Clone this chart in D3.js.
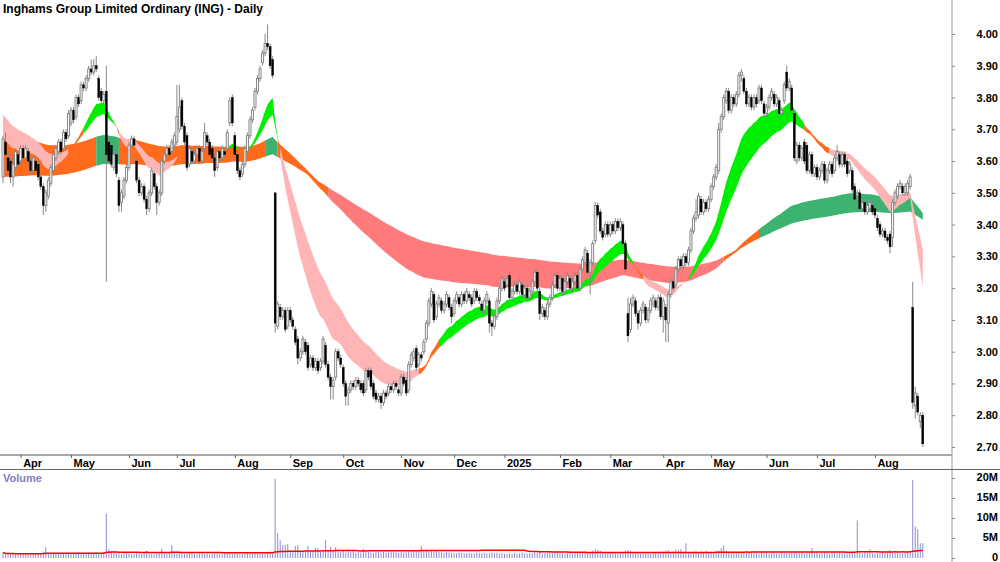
<!DOCTYPE html>
<html>
<head>
<meta charset="utf-8">
<script src="https://cdn.jsdelivr.net/npm/d3@7"></script>
<style>
body { margin: 0; background: #fff; }
svg { display: block; font-family: "Liberation Sans", Arial, sans-serif; }
</style>
</head>
<body>
<svg id="chart" width="1000" height="562"></svg>
<script>
var title = "Inghams Group Limited Ordinary (ING) - Daily";

// one row per trading day: open, high, low, close (cents)
var candles = [
[355,368,353,367],[366,369,360,362],[361,363,356,357],[360,361,353,355],[355,362,352,359],
[358,364,357,363],[362,363,358,359],[360,365,359,364],[364,365,360,361],[361,365,360,364],
[363,364,359,360],[360,361,356,357],[357,362,356,361],[360,361,356,357],[359,360,354,355],
[355,356,351,352],[352,353,343,346],[346,351,344,350],[349,355,348,354],[353,359,352,358],
[357,363,356,362],[361,365,360,364],[363,367,362,366],[366,367,362,363],[364,370,363,369],
[369,370,366,367],[368,376,367,375],[372,377,371,376],[376,377,372,373],[374,381,373,380],
[380,381,377,378],[379,385,378,384],[384,385,382,383],[383,387,382,386],[386,390,385,389],
[389,392,387,388],[388,392,387,390],[390,393,388,389],[386,387,379,380],[382,383,378,379],
[379,382,378,381],[382,390,322,362],[366,367,359,360],[365,366,358,359],[358,363,357,362],
[362,363,355,356],[354,355,344,346],[347,351,344,350],[349,355,348,354],[354,359,353,358],
[358,366,357,365],[365,368,364,367],[367,368,364,365],[360,361,353,354],[354,355,349,350],
[350,353,349,352],[352,353,347,348],[348,349,343,345],[345,351,344,350],[350,358,349,357],
[356,357,351,352],[352,353,343,347],[347,351,346,350],[350,361,349,360],[360,363,359,362],
[362,365,361,364],[364,365,361,362],[363,367,362,366],[365,369,364,368],[366,384,365,374],
[370,384,369,377],[379,380,370,371],[371,372,365,366],[368,369,357,358],[359,365,358,364],
[363,364,359,360],[360,363,359,362],[362,365,361,364],[364,365,359,360],[360,364,359,363],
[364,372,363,369],[368,369,365,366],[366,367,361,362],[364,365,360,361],[361,362,355,357],
[358,364,357,363],[363,364,360,361],[361,365,360,364],[363,364,361,362],[364,370,363,369],
[372,380,371,379],[380,381,371,372],[368,369,361,362],[362,363,356,357],[357,358,354,355],
[356,360,355,359],[359,365,358,364],[363,369,362,368],[368,374,367,373],[373,377,372,376],
[377,383,376,382],[382,387,381,386],[386,390,385,389],[391,395,390,394],[394,400,393,397],
[397,403,395,396],[396,397,389,390],[392,393,386,387],[350,350,306,309],[308,316,307,315],
[314,315,310,311],[311,314,310,313],[313,314,306,307],[308,314,307,313],[313,314,309,310],
[310,311,307,308],[307,308,302,303],[304,305,296,298],[298,301,297,300],[300,305,299,304],
[303,304,299,300],[302,303,294,295],[296,299,295,298],[298,299,294,295],[295,298,294,297],
[297,298,293,294],[295,298,294,297],[297,305,296,304],[302,303,295,296],[296,297,291,292],
[292,293,285,289],[289,292,285,291],[292,301,291,300],[300,301,297,298],[298,299,295,296],
[295,296,289,290],[290,291,283,286],[287,289,283,288],[288,291,287,290],[290,291,288,289],
[289,292,288,291],[291,292,289,290],[290,291,287,288],[290,291,286,287],[288,295,287,294],
[294,295,291,292],[294,295,288,289],[290,291,285,286],[287,288,284,285],[285,287,284,286],
[286,287,282,284],[284,288,283,287],[287,288,285,286],[287,290,286,289],[289,290,287,288],
[288,291,287,290],[290,291,288,289],[288,289,286,287],[287,293,286,292],[292,293,289,290],
[291,292,286,287],[288,297,287,296],[296,300,295,299],[298,301,297,300],[301,302,294,295],
[296,300,295,299],[299,300,297,298],[300,304,299,303],[304,310,303,309],[309,317,308,316],
[315,320,314,319],[318,319,309,310],[311,316,310,315],[315,318,314,317],[316,317,312,313],
[313,316,312,315],[315,319,314,318],[317,318,313,314],[314,315,309,311],[312,317,311,316],
[316,319,315,318],[317,318,314,315],[315,319,314,318],[318,319,315,316],[316,320,315,319],
[318,319,316,317],[317,318,314,315],[316,320,315,319],[319,320,316,317],[317,318,315,316],
[315,316,312,313],[313,317,312,316],[316,319,315,318],[316,317,306,309],[309,310,305,308],
[308,312,307,311],[311,317,310,316],[316,321,315,320],[320,324,319,323],[322,323,319,320],
[321,324,320,323],[324,325,316,317],[317,320,316,319],[319,322,318,321],[321,322,318,319],
[319,323,318,322],[321,322,317,318],[318,321,317,320],[320,321,316,317],[317,320,316,319],
[319,323,318,322],[322,326,321,325],[325,326,319,320],[319,320,310,312],[312,315,311,314],
[313,314,310,311],[311,316,310,315],[315,318,314,317],[317,322,316,321],[321,325,320,324],
[324,325,319,320],[320,324,319,323],[323,324,318,319],[319,323,318,322],[322,325,321,324],
[323,324,319,320],[320,323,319,322],[322,325,321,324],[324,325,319,320],[320,327,319,326],
[326,330,325,329],[328,333,327,332],[331,332,324,325],[325,329,318,328],[328,335,327,334],
[335,347,334,346],[346,347,342,343],[344,345,337,338],[338,339,335,336],[337,341,336,340],
[340,341,336,337],[337,341,336,340],[340,341,337,338],[338,342,337,341],[341,342,338,339],
[339,342,338,341],[340,341,333,334],[334,335,325,326],[312,317,303,305],[307,317,306,315],
[315,318,314,317],[316,317,311,312],[312,313,307,309],[309,314,308,313],[313,316,312,315],
[314,315,309,310],[310,314,309,313],[313,317,312,316],[315,318,314,317],[316,317,313,314],
[314,318,313,317],[317,318,310,311],[311,317,306,316],[314,315,303,310],[309,319,303,318],
[318,323,317,322],[322,323,319,320],[321,327,320,326],[326,330,325,329],[329,330,326,327],
[327,331,326,330],[330,331,327,328],[328,333,327,332],[332,339,331,338],[338,343,337,342],
[342,348,341,344],[343,350,342,349],[348,349,343,344],[344,348,343,347],[347,348,344,345],
[345,349,344,348],[348,353,347,352],[352,356,351,355],[355,359,354,358],[357,372,356,370],
[370,375,369,374],[374,381,373,380],[379,383,378,382],[382,383,375,376],[376,381,375,380],
[380,381,377,378],[378,382,377,381],[381,388,380,387],[387,389,385,388],[386,387,381,382],
[382,383,377,378],[378,381,377,380],[380,381,376,377],[377,381,376,380],[380,381,377,378],
[379,384,378,383],[383,384,378,379],[378,379,374,375],[375,378,374,377],[377,381,376,380],
[380,383,379,382],[381,382,377,378],[378,381,377,380],[379,380,374,375],[375,377,374,376],
[379,385,378,384],[388,390,382,383],[383,386,382,385],[383,384,375,376],[375,376,360,361],
[360,366,359,365],[365,366,360,361],[361,365,360,364],[366,367,359,360],[365,366,356,357],
[357,363,356,362],[362,363,355,356],[356,359,355,358],[358,359,354,355],[355,358,354,357],
[357,360,356,359],[359,360,353,354],[354,358,353,357],[357,360,356,359],[359,360,355,356],
[357,362,356,361],[361,365,360,363],[362,363,358,359],[359,363,358,362],[362,363,358,359],
[360,361,355,356],[357,360,356,359],[357,358,350,351],[352,353,347,348],[349,351,347,350],
[350,351,344,345],[345,348,344,347],[347,348,343,344],[344,347,343,346],[345,348,344,347],
[346,347,343,344],[345,346,342,343],[342,343,338,339],[340,341,336,337],[337,339,336,338],
[338,339,335,336],[336,337,334,335],[337,338,331,333],[336,348,333,347],[347,351,346,350],
[349,353,348,352],[352,354,351,353],[352,353,349,350],[350,353,349,352],[350,354,349,353],
[352,356,351,355],[314,322,282,284],[283,289,279,287],[286,287,280,281],[278,281,276,280],
[280,281,270,271]
];

// daily volume, hundreds of thousands of shares
var volumes = [
14,9,11,10,12,9,8,10,11,13, 10,9,12,11,10,13,16,27,12,11, 10,12,13,11,10,12,14,11,13,12,
15,12,11,13,14,12,11,15,13,12, 14,111,22,16,18,12,11,10,12,13, 11,9,10,12,11,10,13,18,11,10,
9,12,11,23,12,10,14,32,13,11, 15,12,10,11,13,12,10,9,11,12, 10,11,9,10,12,11,10,9,13,12,
11,10,12,11,9,10,11,12,10,13, 12,11,10,14,11,12,16,14,198,62, 44,32,33,35,20,18,30,32,19,17,
18,30,16,17,25,24,15,18,44,19, 27,17,27,16,15,18,14,16,15,17, 13,15,14,23,16,15,14,13,16,15,
14,15,13,14,16,15,14,13,15,14, 15,16,14,17,16,18,30,19,18,17, 18,16,17,15,14,13,15,14,13,12,
12,14,13,11,12,13,12,11,14,13, 12,13,11,12,14,12,13,11,12,10, 11,12,10,13,11,12,14,12,11,13,
12,14,13,15,11,12,13,14,12,15, 13,12,11,10,12,13,11,12,14,13, 15,16,13,14,18,22,20,17,14,13,
12,14,13,12,11,13,15,19,20,18, 14,12,13,11,12,13,12,11,14,13, 12,14,16,18,20,15,17,22,19,22,
16,37,15,14,13,17,15,16,14,18, 15,16,14,17,19,25,32,18,16,15, 14,13,15,12,14,13,12,14,13,12,
11,13,12,14,11,12,13,11,12,14, 13,12,14,13,15,14,12,13,11,12, 13,25,12,14,11,12,13,12,11,13,
12,11,13,12,14,11,12,13,12,94, 13,12,14,13,22,12,11,13,12,14, 13,12,20,13,14,12,11,13,12,14,
15,195,79,72,37,37
];

var months = ["Apr","May","Jun","Jul","Aug","Sep","Oct","Nov","Dec","2025","Feb","Mar","Apr","May","Jun","Jul","Aug"];
var monthIdx = [7,27,50,69,92,114,135,158,179,199,221,241,262,281,303,323,346];
var priceTicks = [2.70,2.80,2.90,3.00,3.10,3.20,3.30,3.40,3.50,3.60,3.70,3.80,3.90,4.00];
var volTicks = [0,5e6,10e6,15e6,20e6];

// moving average ribbons: periods and their values on the first day
var shortPeriods = [19,21,24,27,30,33];
var shortSeed = [3.67,3.685,3.70,3.715,3.73,3.745];
var longPeriods = [130,150,170,190,210,230];
var longSeed = [3.67,3.672,3.60,3.575,3.56,3.55];
var volAvgDays = 100;

var svg = d3.select("#chart");
var N = candles.length;
var W = 1000, axisX = 952;

var x = d3.scaleLinear().domain([0, N - 1]).range([3, 922.8]);
var y = d3.scaleLinear().domain([2.70, 4.00]).range([447, 34]);
var yv = d3.scaleLinear().domain([0, 20e6]).range([558, 478]);

var closes = candles.map(function(d) { return d[3] / 100; });

function ema(period, seed) {
  var a = 2 / (period + 1), v = seed;
  return closes.map(function(c, i) {
    if (i > 0) v += a * (c - v);
    return v;
  });
}

function ribbon(periods, seeds) {
  var lines = periods.map(function(p, k) { return ema(p, seeds[k]); });
  return d3.range(N).map(function(i) {
    var vals = lines.map(function(l) { return l[i]; });
    var up = true, dn = true;
    for (var k = 1; k < vals.length; k++) {
      if (!(vals[k - 1] > vals[k])) up = false;
      if (!(vals[k - 1] < vals[k])) dn = false;
    }
    return { i: i, hi: d3.max(vals), lo: d3.min(vals), s: up ? "up" : (dn ? "dn" : "mx") };
  });
}

var shortRib = ribbon(shortPeriods, shortSeed);
var longRib = ribbon(longPeriods, longSeed);

svg.append("clipPath").attr("id", "pclip")
  .append("rect").attr("x", 0).attr("y", 0).attr("width", axisX).attr("height", 455);

var price = svg.append("g").attr("clip-path", "url(#pclip)");

var area = d3.area()
  .x(function(d) { return x(d.i); })
  .y0(function(d) { return y(d.lo); })
  .y1(function(d) { return y(d.hi); });

function drawRibbon(rib, colors) {
  var start = 0;
  for (var i = 1; i <= N; i++) {
    if (i === N || rib[i].s !== rib[start].s) {
      price.append("path")
        .attr("d", area(rib.slice(start, Math.min(i + 1, N))))
        .attr("fill", colors[rib[start].s]);
      start = i;
    }
  }
}

drawRibbon(longRib, { up: "#3cb371", dn: "#ff7b7b", mx: "#ff6a1c" });
drawRibbon(shortRib, { up: "#00ee00", dn: "#ffb5b5", mx: "#ff6a1c" });

// candles
var cg = price.selectAll(".candle").data(candles).enter().append("g");
cg.append("line")
  .attr("x1", function(d, i) { return x(i); })
  .attr("x2", function(d, i) { return x(i); })
  .attr("y1", function(d) { return y(d[1] / 100); })
  .attr("y2", function(d) { return y(d[2] / 100); })
  .attr("stroke", "#888").attr("stroke-width", 1);
cg.append("rect")
  .attr("x", function(d, i) { return x(i) - 1; })
  .attr("width", 2)
  .attr("y", function(d) { return y(Math.max(d[0], d[3]) / 100); })
  .attr("height", function(d) { return Math.max(1, Math.abs(y(d[0] / 100) - y(d[3] / 100))); })
  .attr("fill", function(d) { return d[3] >= d[0] ? "#fff" : "#000"; })
  .attr("stroke", function(d) { return d[3] >= d[0] ? "#888" : "#000"; })
  .attr("stroke-width", function(d) { return d[3] >= d[0] ? 1 : 0.4; });

// title
svg.append("text").attr("x", 3).attr("y", 13)
  .style("font-size", "12px").style("font-weight", "bold")
  .text(title);

// frame lines
svg.append("line").attr("x1", axisX).attr("x2", axisX).attr("y1", 0).attr("y2", 562)
  .attr("stroke", "#999");
svg.append("line").attr("x1", 0).attr("x2", axisX).attr("y1", 455).attr("y2", 455)
  .attr("stroke", "#a8a8a8").attr("stroke-width", 2);
svg.append("line").attr("x1", 0).attr("x2", W).attr("y1", 469.5).attr("y2", 469.5)
  .attr("stroke", "#666");

// price axis
var pa = svg.append("g").attr("transform", "translate(" + axisX + ",0)")
  .call(d3.axisRight(y).tickValues(priceTicks).tickFormat(d3.format(".2f")).tickSize(3));
pa.select(".domain").remove();
pa.selectAll("line").attr("stroke", "#888");
pa.selectAll("text").attr("x", 46).attr("text-anchor", "end")
  .style("font-size", "11px").style("font-weight", "bold").attr("fill", "#000");

// date axis
var da = svg.append("g").attr("transform", "translate(0,455)")
  .call(d3.axisBottom(x).tickValues(monthIdx)
    .tickFormat(function(d, i) { return months[i]; }).tickSize(3));
da.select(".domain").remove();
da.selectAll("line").attr("stroke", "#666");
da.selectAll("text").attr("x", 2).attr("y", 12).attr("dy", 0).attr("text-anchor", "start")
  .style("font-size", "11px").style("font-weight", "bold").attr("fill", "#000");

// volume
var vg = svg.append("g");
vg.selectAll(".vbar").data(volumes).enter().append("line")
  .attr("x1", function(d, i) { return x(i); })
  .attr("x2", function(d, i) { return x(i); })
  .attr("y1", yv(0))
  .attr("y2", function(d) { return yv(d * 1e5); })
  .attr("stroke", "#8c8cd2").attr("stroke-width", 1);

var volAvg = volumes.map(function(v, i) {
  return d3.mean(volumes.slice(Math.max(0, i - volAvgDays + 1), i + 1)) * 1e5;
});
vg.append("path").datum(volAvg)
  .attr("d", d3.line().x(function(d, i) { return x(i); }).y(function(d) { return yv(d); }))
  .attr("fill", "none").attr("stroke", "#ff0000").attr("stroke-width", 1.5);

vg.append("text").attr("x", 3).attr("y", 482).text("Volume")
  .style("font-size", "11px").style("font-weight", "bold").attr("fill", "#8080c0");

var va = svg.append("g").attr("transform", "translate(" + axisX + ",0)")
  .call(d3.axisRight(yv).tickValues(volTicks)
    .tickFormat(function(d) { return d === 0 ? "0" : (d / 1e6) + "M"; }).tickSize(3));
va.select(".domain").remove();
va.selectAll("line").attr("stroke", "#888");
va.selectAll("text").attr("x", 46).attr("y", -1.5).attr("text-anchor", "end")
  .style("font-size", "11px").style("font-weight", "bold").attr("fill", "#000");
</script>
</body>
</html>
